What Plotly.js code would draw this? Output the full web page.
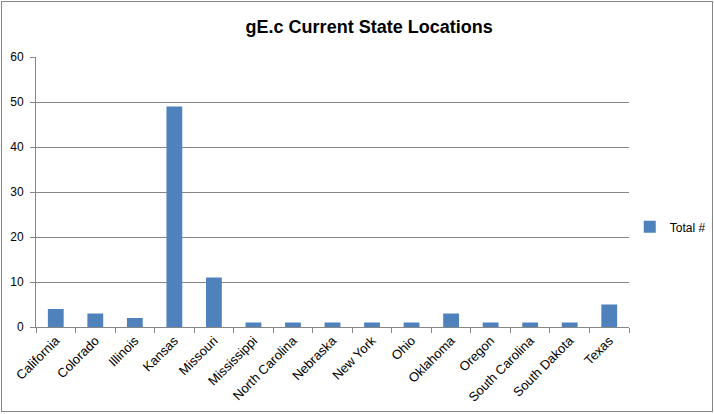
<!DOCTYPE html>
<html>
<head>
<meta charset="utf-8">
<script src="https://cdn.plot.ly/plotly-3.0.1.min.js"></script>
<style>
html,body{margin:0;padding:0;background:#fff;}
#wrap{position:relative;width:714px;height:414px;}
#chart{position:absolute;left:0;top:0;width:714px;height:414px;}
#frame{position:absolute;left:1px;top:1px;width:710px;height:409px;border:1px solid #868686;pointer-events:none;}
</style>
</head>
<body>
<div id="wrap"><div id="chart"></div><div id="frame"></div></div>
<script>
var states = ["California","Colorado","Illinois","Kansas","Missouri","Mississippi","North Carolina","Nebraska","New York","Ohio","Oklahoma","Oregon","South Carolina","South Dakota","Texas"];
var totals = [4,3,2,49,11,1,1,1,1,1,3,1,1,1,5];
var seriesName = "Total #";
var yTicks = [0,10,20,30,40,50,60];

var trace = {
  type: "bar",
  x: states,
  y: totals,
  name: seriesName,
  marker: {color: "#4F81BD"},
  showlegend: true
};

var layout = {
  width: 714,
  height: 414,
  margin: {l: 36, r: 85, t: 57, b: 87},
  paper_bgcolor: "#ffffff",
  plot_bgcolor: "#ffffff",
  font: {family: "Liberation Sans, Arial, sans-serif", size: 12, color: "#000000"},
  title: {text: "<b>gE.c Current State Locations</b>", font: {family: "Liberation Sans, Arial, sans-serif", size: 18, color: "#000"}, x: 0.517, xanchor: "center", y: 0.935, yanchor: "middle"},
  bargap: 0.6,
  showlegend: true,
  legend: {xref: "container", yref: "container", x: 0.882, xanchor: "left", y: 0.452, yanchor: "middle", font: {size: 12}, itemwidth: 30, bgcolor: "rgba(0,0,0,0)"},
  xaxis: {
    type: "category",
    tickangle: -45,
    tickson: "boundaries",
    ticks: "outside",
    ticklen: 5,
    tickcolor: "#868686",
    showline: true,
    linecolor: "#868686",
    linewidth: 1,
    showgrid: false,
    automargin: false,
    tickfont: {size: 13}
  },
  yaxis: {
    range: [0, 60],
    tickvals: yTicks,
    ticks: "outside",
    ticklen: 5,
    tickcolor: "#868686",
    showline: true,
    linecolor: "#868686",
    linewidth: 1,
    showgrid: true,
    gridcolor: "#868686",
    gridwidth: 1,
    zeroline: false,
    automargin: false,
    ticklabelstandoff: 4,
    tickfont: {size: 12}
  }
};

Plotly.newPlot("chart", [trace], layout, {displayModeBar: false, staticPlot: true});
</script>
</body>
</html>
